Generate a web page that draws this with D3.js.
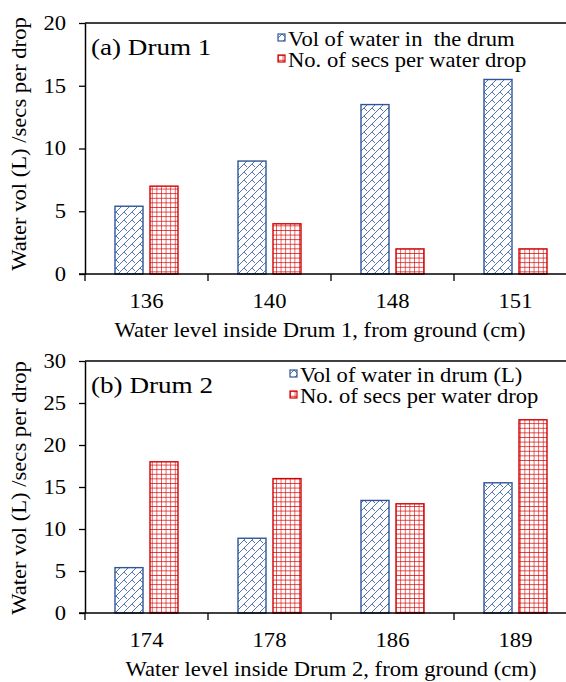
<!DOCTYPE html>
<html>
<head>
<meta charset="utf-8">
<title>Drum water level</title>
<script src="https://d3js.org/d3.v7.min.js"></script>
<style>
  body { margin: 0; background: #fff; }
  svg { display: block; font-family: "Liberation Serif", "Times New Roman", serif; }
</style>
</head>
<body>
<div id="container"></div>
<script>
// values
const drum1Levels = ["136", "140", "148", "151"];
const drum1Vol = [5.4, 9, 13.5, 15.5];
const drum1Secs = [7, 4, 2, 2];
const drum1Ticks = [0, 5, 10, 15, 20];

const drum2Levels = ["174", "178", "186", "189"];
const drum2Vol = [5.4, 8.9, 13.4, 15.5];
const drum2Secs = [18, 16, 13, 23];
const drum2Ticks = [0, 5, 10, 15, 20, 25, 30];

const width = 566, height = 682;
const blue = "#2f5597", red = "#d40000";
const fs = 20, wide = 1.13;   // the original text is a bit stretched sideways

const svg = d3.select("#container").append("svg")
    .attr("width", width)
    .attr("height", height);

// stretch a text sideways around its own x
function stretch(sel) {
  sel.each(function() {
    const t = d3.select(this);
    const x = +t.attr("x") || 0;
    t.attr("transform", `translate(${x * (1 - wide)},0) scale(${wide},1)`);
  });
}

// patterns
const defs = svg.append("defs");
const pb = defs.append("pattern")
    .attr("id", "brick")
    .attr("patternUnits", "userSpaceOnUse")
    .attr("width", 8).attr("height", 8);
pb.append("rect").attr("width", 8).attr("height", 8).attr("fill", "#fff");
pb.append("path")
    .attr("d", "M0,8L8,0M-1,1L1,-1M7,9L9,7M4,4L7,7")
    .attr("stroke", "#3d64a8").attr("stroke-width", 0.9).attr("fill", "none");

const pg = defs.append("pattern")
    .attr("id", "grid")
    .attr("patternUnits", "userSpaceOnUse")
    .attr("width", 4.6).attr("height", 4.6);
pg.append("rect").attr("width", 4.6).attr("height", 4.6).attr("fill", "#fff");
pg.append("path")
    .attr("d", "M0,0H4.6M0,0V4.6")
    .attr("stroke", red).attr("stroke-width", 1.2).attr("fill", "none");

function panel(o) {
  const g = svg.append("g");
  const x = d3.scaleBand().domain(o.levels).range([85, 577]);
  const inner = d3.scaleBand().domain(["vol", "secs"]).range([30, 93]).paddingInner(0.2);
  const y = d3.scaleLinear().domain([0, d3.max(o.ticks)]).range([o.bottom, o.top]);

  const rows = o.levels.map((l, i) => ({ level: l, vol: o.vol[i], secs: o.secs[i] }));

  g.selectAll(".vol").data(rows).join("rect")
      .attr("x", d => x(d.level) + inner("vol"))
      .attr("y", d => y(d.vol))
      .attr("width", inner.bandwidth())
      .attr("height", d => y(0) - y(d.vol))
      .attr("fill", "url(#brick)")
      .attr("stroke", blue).attr("stroke-width", 1.4);

  g.selectAll(".secs").data(rows).join("rect")
      .attr("x", d => x(d.level) + inner("secs"))
      .attr("y", d => y(d.secs))
      .attr("width", inner.bandwidth())
      .attr("height", d => y(0) - y(d.secs))
      .attr("fill", "url(#grid)")
      .attr("stroke", red).attr("stroke-width", 1.4);

  // top border
  g.append("line")
      .attr("x1", 85).attr("x2", 577)
      .attr("y1", y(d3.max(o.ticks))).attr("y2", y(d3.max(o.ticks)))
      .attr("stroke", "#000").attr("stroke-width", 1.5);

  // y axis
  const ya = g.append("g")
      .attr("transform", "translate(85,0)")
      .call(d3.axisLeft(y).tickValues(o.ticks).tickSize(6).tickPadding(13).tickSizeOuter(0));
  ya.select(".domain").attr("stroke-width", 1.5);
  ya.selectAll("line").attr("stroke-width", 1.3);
  ya.selectAll("text").attr("font-size", fs).attr("font-family", "Liberation Serif").attr("fill", "#000").call(stretch);

  // x axis: labels at centres, ticks at category edges
  const xa = g.append("g")
      .attr("transform", `translate(0,${y(0)})`)
      .call(d3.axisBottom(x).tickSize(0).tickPadding(20));
  xa.select(".domain").attr("stroke-width", 1.5).attr("d", `M${x.range()[0] - 6},0H${x.range()[1]}`);
  xa.selectAll("text").attr("font-size", fs).attr("font-family", "Liberation Serif").attr("fill", "#000").call(stretch);
  const edges = o.levels.map(l => x(l)).concat([x.range()[1]]);
  g.selectAll(".edge").data(edges).join("line")
      .attr("x1", d => d).attr("x2", d => d)
      .attr("y1", y(0)).attr("y2", y(0) + 7)
      .attr("stroke", "#000").attr("stroke-width", 1.3);

  // titles
  g.append("text")
      .attr("x", o.xTitleX).attr("y", o.bottom + 63)
      .attr("text-anchor", "middle")
      .attr("font-size", fs)
      .text(o.xTitle)
      .call(stretch);
  g.append("text")
      .attr("transform", `translate(26,${o.yTitleY}) rotate(-90) scale(${wide},1)`)
      .attr("text-anchor", "middle")
      .attr("font-size", fs)
      .text("Water vol (L) /secs per drop");
  g.append("text")
      .attr("x", 91).attr("y", o.top + 32)
      .attr("font-size", 24)
      .text(o.label)
      .call(stretch);

  // legend
  const lg = g.append("g").attr("transform", `translate(${o.legX},${o.legY})`);
  const items = [
    { name: o.volName, fill: "url(#brick)", stroke: blue },
    { name: "No. of secs per water drop", fill: "url(#grid)", stroke: red }
  ];
  items.forEach((it, i) => {
    lg.append("rect")
        .attr("x", 0).attr("y", i * 21 - 12)
        .attr("width", 7).attr("height", 7)
        .attr("fill", it.fill).attr("stroke", it.stroke).attr("stroke-width", 1.2);
    lg.append("text")
        .attr("x", 10).attr("y", i * 21)
        .attr("font-size", fs)
        .style("white-space", "pre")
        .text(it.name)
        .call(stretch);
  });
}

panel({
  levels: drum1Levels, vol: drum1Vol, secs: drum1Secs, ticks: drum1Ticks,
  top: 23, bottom: 274, label: "(a) Drum 1",
  xTitle: "Water level inside Drum 1, from ground (cm)", xTitleX: 320, yTitleY: 144,
  volName: "Vol of water in  the drum", legX: 278, legY: 46
});

panel({
  levels: drum2Levels, vol: drum2Vol, secs: drum2Secs, ticks: drum2Ticks,
  top: 361, bottom: 613, label: "(b) Drum 2",
  xTitle: "Water level inside Drum 2, from ground (cm)", xTitleX: 331, yTitleY: 488,
  volName: "Vol of water in drum (L)", legX: 290, legY: 382
});
</script>
</body>
</html>
